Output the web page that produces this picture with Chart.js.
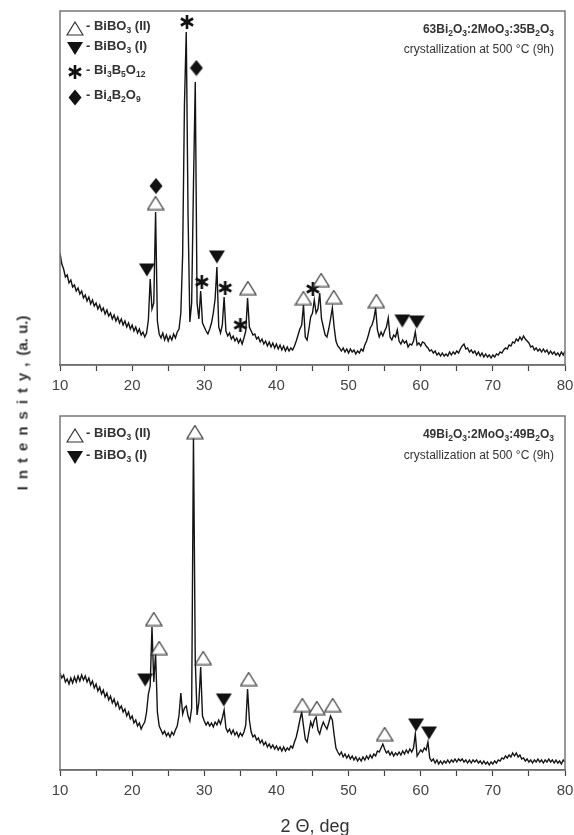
<!DOCTYPE html>
<html><head><meta charset="utf-8">
<script src="https://cdn.jsdelivr.net/npm/chart.js@4.4.1/dist/chart.umd.min.js"></script>
<style>
html,body{margin:0;padding:0;background:#fff;}
body{width:574px;height:835px;position:relative;overflow:hidden;font-family:"Liberation Sans",Arial,sans-serif;color:#333;}
.panel{position:absolute;left:0;width:574px;}
.leg{position:absolute;left:66px;height:20px;line-height:20px;font-weight:bold;font-size:13px;white-space:nowrap;color:#333;}
.leg .sym{width:18px;height:18px;display:inline-block;vertical-align:middle;margin-right:2px;text-align:center;}
.leg .sym canvas{display:inline-block;vertical-align:middle;}
sub{font-size:8.5px;vertical-align:-3px;line-height:0;}
.note{position:absolute;right:20px;text-align:right;white-space:nowrap;line-height:14px;color:#333;}
.formula{font-weight:bold;font-size:12px;}
.cond{font-size:12px;}
#ytitle{position:absolute;left:22px;top:403px;transform:translate(-50%,-50%) rotate(-90deg);font-weight:bold;font-size:15px;white-space:nowrap;color:#333;}
#ytitle .sp{letter-spacing:7px;}
#xtitle{position:absolute;left:315px;top:826px;transform:translate(-50%,-50%);font-size:18px;white-space:nowrap;color:#333;}
</style></head>
<body>
<div class="panel" style="top:0;height:400px"><canvas id="cTop" width="574" height="400"></canvas></div>
<div class="panel" style="top:400px;height:435px"><canvas id="cBot" width="574" height="435"></canvas></div>

<div class="leg" style="top:16px"><span class="sym" data-m="open"></span><span>- BiBO<sub>3</sub> (II)</span></div>
<div class="leg" style="top:36px"><span class="sym" data-m="down"></span><span>- BiBO<sub>3</sub> (I)</span></div>
<div class="leg" style="top:60px"><span class="sym" data-m="star"></span><span>- Bi<sub>3</sub>B<sub>5</sub>O<sub>12</sub></span></div>
<div class="leg" style="top:85px"><span class="sym" data-m="diamond"></span><span>- Bi<sub>4</sub>B<sub>2</sub>O<sub>9</sub></span></div>
<div class="note formula" style="top:22px">63Bi<sub>2</sub>O<sub>3</sub>:2MoO<sub>3</sub>:35B<sub>2</sub>O<sub>3</sub></div>
<div class="note cond" style="top:42px">crystallization at 500 °C (9h)</div>

<div class="leg" style="top:423px"><span class="sym" data-m="open"></span><span>- BiBO<sub>3</sub> (II)</span></div>
<div class="leg" style="top:445px"><span class="sym" data-m="down"></span><span>- BiBO<sub>3</sub> (I)</span></div>
<div class="note formula" style="top:427px">49Bi<sub>2</sub>O<sub>3</sub>:2MoO<sub>3</sub>:49B<sub>2</sub>O<sub>3</sub></div>
<div class="note cond" style="top:448px">crystallization at 500 °C (9h)</div>

<div id="ytitle"><span class="sp">Intensity,</span>(a. u.)</div>
<div id="xtitle">2 Θ, deg</div>

<script>
// scan grid (2-theta, degrees)
const scanStart = 10;
const scanStep = 0.25;
const xTicks = [10, 20, 30, 40, 50, 60, 70, 80];

// top pattern: 63Bi2O3:2MoO3:35B2O3
const topIntensity = [
 112,101,96,88, 90,82,85,78, 80,74,77,71, 74,67,70,64, 68,61,65,59,
 62,56,60,54, 57,51,55,49, 52,46,50,44, 48,42,46,40, 44,38,42,36,
 40,34,38,32, 36,30,33,28, 32,45,86,56, 62,153,44,31, 27,32,25,30,
 24,29,25,31, 27,33,36,52, 110,260,333,150, 43,62,180,283, 62,46,74,42,
 38,34,31,36, 42,52,66,98, 38,32,40,68, 34,29,32,26, 29,24,27,22,
 26,21,27,34, 67,38,34,30, 31,26,28,23, 26,21,24,19, 23,18,22,17,
 21,16,20,15, 19,14,18,14, 17,15,19,24, 30,36,40,60, 28,25,36,48,
 52,65,52,56, 72,46,38,30, 28,36,46,57, 38,24,19,17, 14,17,13,16,
 12,16,13,15, 11,14,12,16, 14,20,24,30, 37,40,46,57, 35,28,33,29,
 34,38,47,28, 25,30,28,35, 24,21,25,22, 24,18,21,20, 24,33,20,22,
 19,23,22,19, 17,14,15,12, 14,10,12,9, 12,9,11,9, 13,10,13,11,
 14,12,16,19, 21,16,17,13, 15,12,14,10, 13,9,12,8, 11,8,10,7,
 10,8,11,10, 13,12,15,17, 16,20,19,23, 22,26,24,28, 25,29,26,24,
 22,18,19,15, 17,14,16,13, 16,13,15,11, 14,11,13,10, 12,9,13,10,
 14
];

// bottom pattern: 49Bi2O3:2MoO3:49B2O3
const botIntensity = [
 97,92,95,88, 91,86,92,87, 93,88,94,89, 95,90,94,88, 92,85,89,82,
 86,79,83,76, 80,73,77,70, 74,67,71,64, 68,61,64,58, 61,54,58,51,
 54,47,50,44, 47,41,45,48, 58,76,84,143, 88,117,58,44, 40,36,39,34,
 37,33,38,35, 40,44,55,77, 56,62,64,54, 49,62,334,110, 55,68,103,54,
 49,45,48,44, 47,43,48,45, 50,46,52,60, 42,38,41,36, 40,35,38,33,
 37,34,38,45, 81,50,38,33, 35,30,32,27, 30,25,28,23, 26,22,25,21,
 24,20,23,19, 23,19,22,20, 24,22,28,33, 41,50,58,44, 31,28,38,48,
 43,50,53,40, 36,43,48,44, 41,47,54,50, 35,22,18,15, 18,13,16,12,
 15,11,14,10, 13,9,12,9, 13,10,14,11, 15,12,16,14, 19,18,22,26,
 21,17,19,15, 18,14,17,15, 18,15,19,16, 20,17,21,18, 22,36,14,17,
 20,18,22,20, 28,12,9,11, 7,10,6,9, 6,9,7,10, 7,10,8,11,
 8,11,9,11, 8,10,7,10, 7,10,8,10, 7,9,6,9, 6,8,5,8,
 6,9,7,10, 9,12,11,14, 12,15,13,17, 14,17,13,15, 11,12,9,11,
 8,10,7,10, 8,11,8,10, 7,10,8,11, 8,10,7,10, 7,9,6,10,
 8
];

// phase markers [2theta, height]
const topBiBO3II = [[23.25,162],[36.05,77],[43.75,67],[46.2,85],[47.95,68],[53.85,64]];
const topBiBO3I = [[22.05,95],[31.75,108],[57.45,44],[59.45,43]];
const topBi3B5O12 = [[27.6,343],[29.65,83],[32.9,77],[35.0,40],[45.05,76]];
const topBi4B2O9 = [[23.3,179],[28.9,297]];

const botBiBO3II = [[23.0,151],[23.75,122],[28.7,338],[29.85,112],[36.15,91],[43.6,65],[45.6,62],[47.8,65],[55.0,36]];
const botBiBO3I = [[21.8,90],[32.7,70],[59.35,45],[61.15,37]];

function makeMarker(kind){
  const c=document.createElement('canvas');
  const ctx=c.getContext('2d');
  if(kind==='open'){c.width=18;c.height=15;ctx.beginPath();ctx.moveTo(9,1);ctx.lineTo(17,14);ctx.lineTo(1,14);ctx.closePath();ctx.fillStyle='#fff';ctx.fill();ctx.strokeStyle='#333';ctx.lineWidth=1.2;ctx.stroke();}
  if(kind==='down'){c.width=18;c.height=15;ctx.beginPath();ctx.moveTo(1,1);ctx.lineTo(17,1);ctx.lineTo(9,14);ctx.closePath();ctx.fillStyle='#111';ctx.fill();}
  if(kind==='star'){c.width=16;c.height=16;ctx.strokeStyle='#111';ctx.lineWidth=2.6;
    for(let k=0;k<3;k++){const a=Math.PI/2+k*Math.PI/3;ctx.beginPath();ctx.moveTo(8+7*Math.cos(a),8-7*Math.sin(a));ctx.lineTo(8-7*Math.cos(a),8+7*Math.sin(a));ctx.stroke();}}
  if(kind==='diamond'){c.width=14;c.height=17;ctx.beginPath();ctx.moveTo(7,0.5);ctx.lineTo(13.5,8.5);ctx.lineTo(7,16.5);ctx.lineTo(0.5,8.5);ctx.closePath();ctx.fillStyle='#111';ctx.fill();}
  return c;
}
document.querySelectorAll('.sym').forEach(s=>s.appendChild(makeMarker(s.dataset.m)));

const toPts = arr => arr.map((v,i)=>({x: scanStart + i*scanStep, y: v}));
const toMk = arr => arr.map(p=>({x:p[0], y:p[1]}));

const framePlugin = {
  id:'frame',
  afterDraw(chart){
    const a=chart.chartArea, ctx=chart.ctx;
    ctx.save();ctx.strokeStyle='#777';ctx.lineWidth=1.5;
    ctx.strokeRect(a.left,a.top,a.right-a.left,a.bottom-a.top);
    ctx.restore();
  }
};

function markerSet(arr, kind){
  return {type:'scatter', data:toMk(arr), pointStyle:makeMarker(kind), pointRadius:8, pointHoverRadius:8, showLine:false, order:0, clip:false};
}

function makeChart(id, intensity, markers, pad){
  return new Chart(document.getElementById(id), {
    type:'line',
    data:{datasets:[
      {data:toPts(intensity), borderColor:'#141414', borderWidth:1.4, pointRadius:0, tension:0, order:1},
      ...markers
    ]},
    options:{
      animation:false, responsive:false, devicePixelRatio:1, events:[],
      layout:{padding:pad},
      plugins:{legend:{display:false}, tooltip:{enabled:false}},
      scales:{
        x:{type:'linear', min:10, max:80,
          afterBuildTicks(s){ const t=[]; for(let v=10; v<=80; v+=5) t.push({value:v}); s.ticks=t; },
          ticks:{callback:v=> xTicks.includes(v)? String(v):'', font:{family:'"Liberation Sans", Arial, sans-serif', size:15}, color:'#444', padding:6, maxRotation:0, autoSkip:false},
          grid:{drawOnChartArea:false, drawTicks:true, tickLength:6, color:'#444', tickColor:'#444', tickWidth:1.2},
          border:{display:true, color:'#555', width:1.5},
          afterFit(s){ s.height=35; s.paddingLeft=0; s.paddingRight=0; }
        },
        y:{display:false, min:0, max:354}
      }
    },
    plugins:[framePlugin]
  });
}

makeChart('cTop', topIntensity, [
  markerSet(topBiBO3II,'open'), markerSet(topBiBO3I,'down'),
  markerSet(topBi3B5O12,'star'), markerSet(topBi4B2O9,'diamond')
], {left:60, right:8, top:11, bottom:0});

makeChart('cBot', botIntensity, [
  markerSet(botBiBO3II,'open'), markerSet(botBiBO3I,'down')
], {left:60, right:8, top:16, bottom:30});
</script>
</body></html>
